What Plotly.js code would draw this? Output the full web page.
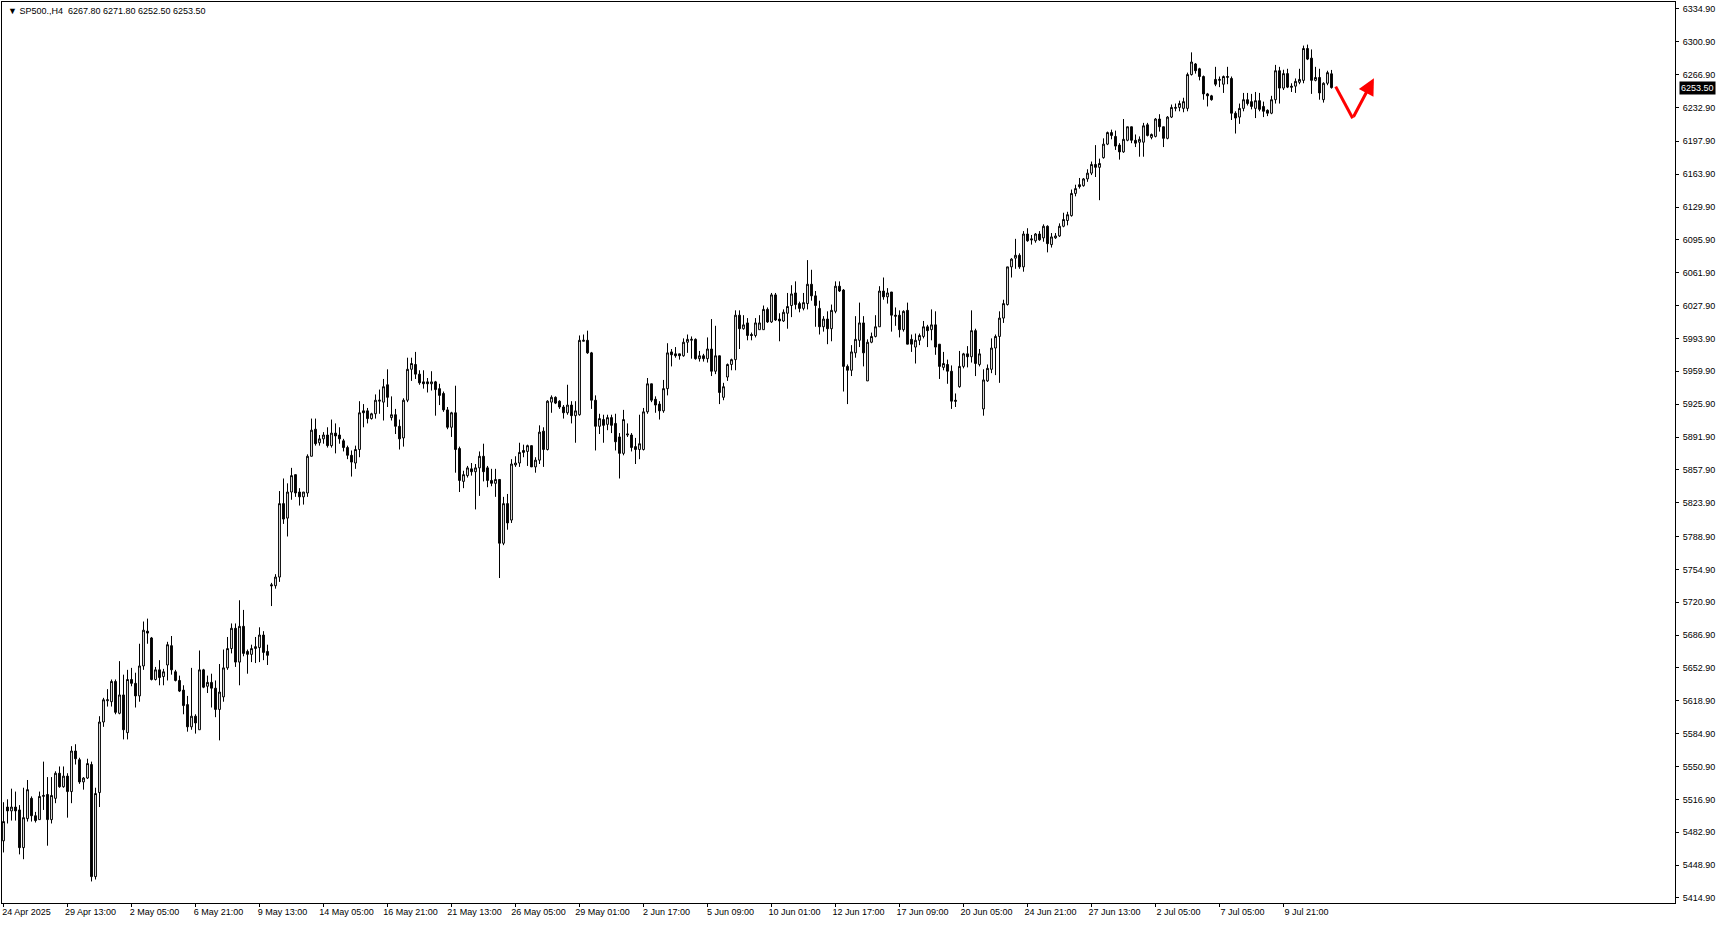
<!DOCTYPE html>
<html>
<head>
<meta charset="utf-8">
<script src="https://cdn.plot.ly/plotly-3.0.1.min.js"></script>
<style>
html,body{margin:0;padding:0;background:#fff;}
#chart{width:1722px;height:925px;}
</style>
</head>
<body>
<div id="chart"></div>
<script>
// ---- DATA (SP500., H4) ----
const symbolTitle = "SP500.,H4";
const opens = [
5474,5509,5505,5509,5506,5467,5497,5518,5500,5496,5520,5522,5496,5518,5544,5530,5541,5525,5567,5558,
5535,5539,5553,5437,5524,5597,5619,5618,5639,5606,5625,5586,5641,5637,5624,5655,5691,5684,5641,5651,
5644,5656,5676,5649,5640,5630,5615,5592,5603,5589,5651,5634,5638,5632,5610,5623,5653,5673,5694,5659,
5696,5670,5667,5673,5674,5687,5670,5739,5738,5747,5823,5808,5835,5853,5835,5830,5834,5872,5900,5886,
5890,5894,5883,5896,5894,5888,5881,5873,5865,5879,5919,5919,5911,5916,5929,5928,5946,5912,5915,5903,
5891,5930,5962,5967,5957,5949,5949,5947,5949,5942,5937,5920,5902,5917,5880,5846,5852,5859,5856,5860,
5872,5860,5847,5844,5848,5782,5823,5806,5863,5865,5878,5877,5883,5861,5868,5898,5879,5928,5933,5929,
5923,5917,5925,5914,5915,5991,5992,5979,5930,5903,5910,5905,5912,5906,5892,5875,5894,5894,5882,5879,
5879,5918,5947,5931,5926,5919,5942,5980,5978,5978,5976,5990,5992,5993,5973,5976,5973,5983,5960,5976,
5933,5954,5967,5972,6018,6004,6010,5998,5997,6003,6003,6024,6011,6039,6014,6012,6020,6028,6041,6030,
6025,6030,6050,6038,6025,6006,6014,6004,6022,6048,6044,5965,5961,5979,5992,6010,5950,5990,5996,6006,
6043,6037,6042,6018,6018,6003,6023,5993,5985,5992,5996,6006,6003,6008,5988,5964,5967,5960,5930,5944,
5965,5978,5975,6002,5967,5921,5950,5962,5984,5996,6015,6029,6068,6077,6080,6068,6102,6097,6095,6102,
6098,6110,6091,6098,6100,6110,6116,6121,6144,6153,6152,6159,6165,6174,6171,6181,6195,6207,6203,6194,
6187,6199,6213,6199,6197,6197,6215,6202,6203,6221,6213,6201,6223,6232,6233,6232,6232,6267,6278,6273,
6265,6247,6245,6262,6261,6257,6264,6263,6227,6223,6232,6241,6239,6232,6240,6234,6230,6227,6241,6271,
6253,6268,6255,6255,6259,6261,6294,6284,6261,6264,6241,6258,6267.8];
const highs = [
5514,5517,5528,5525,5511,5529,5537,5520,5504,5525,5556,5540,5540,5546,5551,5551,5544,5572,5574,5560,
5540,5559,5556,5529,5603,5622,5631,5641,5641,5660,5646,5651,5653,5648,5678,5701,5704,5685,5654,5661,
5652,5680,5686,5651,5645,5635,5624,5653,5605,5671,5652,5645,5647,5640,5657,5672,5685,5699,5699,5723,
5713,5672,5677,5685,5695,5691,5677,5741,5750,5836,5849,5844,5860,5853,5839,5835,5874,5911,5911,5894,
5897,5902,5910,5906,5902,5890,5883,5878,5883,5929,5926,5922,5917,5936,5941,5952,5962,5934,5921,5910,
5932,5974,5974,5980,5961,5961,5953,5960,5950,5947,5939,5923,5918,5945,5882,5857,5862,5865,5864,5877,
5885,5862,5859,5859,5848,5830,5833,5869,5872,5886,5884,5884,5883,5871,5904,5902,5930,5935,5934,5930,
5925,5946,5929,5929,5997,5998,6002,5980,5935,5916,5915,5915,5915,5916,5896,5920,5906,5896,5891,5915,
5922,5953,5947,5934,5929,5951,5989,5983,5985,5978,5994,5998,5996,5994,5981,5978,5995,6014,6007,5976,
5948,5968,5973,6023,6023,6018,6015,6000,6015,6018,6028,6026,6041,6041,6020,6024,6041,6049,6053,6032,
6041,6075,6065,6043,6033,6017,6022,6029,6053,6053,6045,5967,5987,6017,6031,6017,5993,6000,6018,6048,
6057,6046,6042,6026,6023,6023,6031,5998,5999,5999,6012,6008,6024,6022,5988,5980,5972,5966,5937,5981,
5979,5986,6023,6004,5983,5962,5967,5994,5998,6022,6034,6068,6077,6097,6082,6105,6108,6101,6103,6105,
6112,6111,6103,6103,6113,6124,6125,6148,6153,6160,6160,6169,6177,6194,6180,6201,6208,6210,6209,6196,
6221,6213,6213,6205,6203,6217,6217,6206,6222,6226,6213,6224,6236,6237,6240,6243,6269,6290,6279,6274,
6266,6248,6246,6275,6265,6266,6275,6265,6229,6237,6248,6248,6247,6249,6248,6239,6231,6245,6277,6275,
6272,6273,6258,6263,6273,6297,6298,6293,6275,6273,6259,6271,6271.8];
const lows = [
5462,5492,5495,5495,5460,5455,5494,5494,5493,5496,5506,5469,5492,5513,5529,5529,5498,5513,5553,5533,
5527,5538,5432,5434,5509,5592,5613,5613,5605,5605,5579,5579,5634,5612,5618,5651,5678,5640,5640,5635,
5635,5640,5646,5639,5628,5605,5587,5589,5585,5589,5632,5627,5612,5602,5578,5618,5651,5668,5654,5635,
5665,5647,5659,5658,5659,5661,5656,5717,5735,5742,5802,5789,5827,5830,5821,5822,5830,5872,5883,5883,
5885,5881,5881,5875,5885,5877,5869,5851,5859,5871,5902,5906,5910,5911,5916,5909,5923,5909,5895,5879,
5882,5928,5950,5952,5946,5942,5938,5940,5914,5925,5918,5900,5892,5855,5835,5839,5850,5852,5817,5831,
5846,5840,5841,5830,5746,5780,5796,5803,5861,5861,5871,5862,5861,5855,5864,5861,5878,5917,5926,5921,
5911,5915,5906,5886,5914,5991,5978,5921,5878,5895,5886,5899,5896,5878,5849,5873,5892,5877,5864,5869,
5878,5916,5928,5917,5910,5917,5935,5965,5974,5972,5975,5979,5973,5972,5970,5970,5969,5955,5957,5926,
5930,5950,5961,5961,5983,6003,5992,5992,5995,6003,6003,6010,6010,6012,5991,6011,6004,6016,6024,6021,
6023,6024,6033,6006,5998,6001,5988,5991,6020,6042,5939,5926,5955,5974,5985,5965,5950,5989,5995,6006,
6034,6030,6001,6007,5995,6001,5988,5980,5968,5987,5994,5985,5992,5977,5952,5961,5947,5921,5923,5943,
5963,5964,5969,5955,5965,5914,5949,5958,5956,5948,6010,6028,6057,6066,6066,6063,6094,6091,6093,6095,
6094,6083,6088,6097,6099,6109,6111,6120,6141,6149,6151,6156,6163,6161,6137,6180,6194,6200,6189,6179,
6186,6198,6196,6192,6182,6182,6203,6200,6202,6208,6192,6200,6222,6229,6229,6228,6229,6266,6268,6261,
6241,6234,6240,6255,6254,6248,6257,6220,6206,6216,6229,6235,6231,6222,6229,6223,6224,6226,6237,6237,
6251,6253,6249,6248,6257,6258,6282,6247,6260,6241,6238,6256,6252.5];
const closes = [
5494,5505,5509,5505,5467,5498,5527,5500,5495,5520,5521,5496,5521,5544,5530,5541,5525,5567,5559,5535,
5539,5554,5437,5523,5597,5620,5620,5639,5607,5625,5589,5641,5637,5624,5655,5692,5689,5641,5651,5643,
5649,5677,5651,5640,5629,5614,5592,5603,5596,5651,5633,5638,5632,5610,5628,5653,5673,5694,5659,5696,
5668,5667,5673,5675,5687,5669,5666,5738,5747,5823,5807,5835,5852,5834,5830,5835,5872,5899,5885,5890,
5894,5883,5896,5893,5890,5881,5873,5866,5879,5917,5917,5911,5916,5930,5930,5944,5933,5915,5903,5890,
5930,5962,5968,5957,5948,5947,5947,5949,5941,5935,5920,5902,5917,5879,5847,5853,5860,5856,5860,5872,
5856,5847,5844,5848,5782,5823,5803,5864,5865,5876,5876,5883,5861,5868,5897,5879,5929,5933,5927,5923,
5917,5925,5914,5919,5992,5992,5979,5930,5903,5911,5904,5912,5904,5887,5875,5910,5895,5881,5879,5885,
5918,5947,5930,5925,5919,5942,5979,5977,5976,5976,5990,5993,5993,5973,5976,5973,5983,5960,5976,5938,
5944,5967,5972,6018,6004,6008,5997,5997,6010,6010,6024,6011,6039,6013,6012,6021,6027,6040,6029,6025,
6031,6050,6038,6028,6006,6014,6004,6023,6048,6043,5965,5961,5980,5993,6010,5979,5990,5996,6006,6043,
6037,6041,6018,6017,6003,6022,5988,5988,5992,5997,6006,6002,6008,5985,5965,5968,5960,5929,5929,5965,
5978,5975,6002,5968,5978,5951,5963,5984,5996,6015,6030,6068,6076,6080,6068,6102,6095,6096,6102,6096,
6110,6092,6099,6100,6110,6117,6122,6144,6149,6151,6159,6165,6174,6171,6175,6195,6207,6204,6193,6187,
6200,6213,6199,6196,6200,6214,6204,6205,6221,6213,6201,6223,6233,6233,6237,6239,6267,6280,6271,6265,
6247,6245,6241,6257,6262,6265,6265,6227,6222,6232,6241,6237,6234,6240,6231,6229,6227,6241,6271,6253,
6268,6254,6254,6260,6262,6294,6283,6261,6264,6248,6258,6269,6253.5];

// time-axis labels (every 16th H4 bar)
const dateLabelBars = [0,16,32,48,64,80,96,112,128,144,160,176,192,208,224,240,256,272,288,304,320];
const dateLabels = ["24 Apr 2025","29 Apr 13:00","2 May 05:00","6 May 21:00","9 May 13:00","14 May 05:00",
 "16 May 21:00","21 May 13:00","26 May 05:00","29 May 01:00","2 Jun 17:00","5 Jun 09:00","10 Jun 01:00",
 "12 Jun 17:00","17 Jun 09:00","20 Jun 05:00","24 Jun 21:00","27 Jun 13:00","2 Jul 05:00","7 Jul 05:00","9 Jul 21:00"];
// price-axis labels
const priceTicks = [6334.9,6300.9,6266.9,6232.9,6197.9,6163.9,6129.9,6095.9,6061.9,6027.9,5993.9,5959.9,
 5925.9,5891.9,5857.9,5823.9,5788.9,5754.9,5720.9,5686.9,5652.9,5618.9,5584.9,5550.9,5516.9,5482.9,5448.9,5414.9];
// red drawn arrow (bar index, price)
const arrowBars = [333.05, 337.3, 342.6];
const arrowPrices = [6254.5, 6221.8, 6263.2];

// ---- CHART ----
const barIdx = opens.map((_, i) => i);
const last = opens.length - 1;
const FONT = "Liberation Sans, Arial, sans-serif";

const candles = {
  type: "candlestick",
  x: barIdx, open: opens, high: highs, low: lows, close: closes,
  increasing: {line: {color: "#000000", width: 1}, fillcolor: "#ffffff"},
  decreasing: {line: {color: "#000000", width: 1}, fillcolor: "#000000"},
  whiskerwidth: 0,
  hoverinfo: "skip",
  showlegend: false
};

const arrowLine = {
  type: "scatter", mode: "lines",
  x: [arrowBars[0], arrowBars[1]],
  y: [arrowPrices[0], arrowPrices[1]],
  line: {color: "#ff0000", width: 3},
  hoverinfo: "skip", showlegend: false
};

const sp = "\u00a0";
const header = "\u25BC" + sp + symbolTitle + sp + sp + [opens[last], highs[last], lows[last], closes[last]].map(v => v.toFixed(2)).join(sp);

const layout = {
  width: 1722, height: 925,
  margin: {l: 2, r: 47, t: 2, b: 22, pad: 0},
  paper_bgcolor: "#ffffff", plot_bgcolor: "#ffffff",
  showlegend: false,
  hovermode: false,
  boxgap: 0.35,
  font: {family: FONT, size: 9, color: "#000000"},
  xaxis: {
    type: "linear",
    range: [-0.375, 417.875],
    rangeslider: {visible: false},
    tickmode: "array", tickvals: dateLabelBars, ticktext: dateLabels,
    ticks: "outside", ticklen: 3, tickcolor: "#000000", tickwidth: 1,
    ticklabelshift: 23,
    ticklabelstandoff: -3,
    showline: true, mirror: true, linecolor: "#000000", linewidth: 1,
    showgrid: false, zeroline: false, fixedrange: true,
    tickfont: {family: FONT, size: 9, color: "#000000"}
  },
  yaxis: {
    side: "right",
    range: [5409.7, 6342.1],
    tickmode: "array", tickvals: priceTicks, tickformat: ".2f",
    ticks: "outside", ticklen: 3, tickcolor: "#000000", tickwidth: 1,
    ticklabelstandoff: 2,
    showline: true, mirror: true, linecolor: "#000000", linewidth: 1,
    showgrid: false, zeroline: false, fixedrange: true,
    tickfont: {family: FONT, size: 9, color: "#000000"}
  },
  annotations: [
    {xref: "paper", yref: "paper", x: 0, y: 1, xanchor: "left", yanchor: "top",
     xshift: 4, yshift: -2, text: header, showarrow: false,
     font: {family: FONT, size: 9, color: "#000000"}},
    {xref: "paper", yref: "y", x: 1, y: closes[last], xanchor: "left", yanchor: "middle",
     xshift: 4, text: closes[last].toFixed(2), showarrow: false, bgcolor: "#000000", borderpad: 1,
     font: {family: FONT, size: 9, color: "#ffffff"}},
    {xref: "x", yref: "y", axref: "x", ayref: "y",
     x: arrowBars[2], y: arrowPrices[2], ax: arrowBars[1], ay: arrowPrices[1],
     showarrow: true, arrowhead: 2, arrowsize: 1.1, arrowwidth: 3, arrowcolor: "#ff0000", text: ""}
  ]
};

Plotly.newPlot("chart", [candles, arrowLine], layout, {displayModeBar: false, staticPlot: true});
</script>
</body>
</html>
